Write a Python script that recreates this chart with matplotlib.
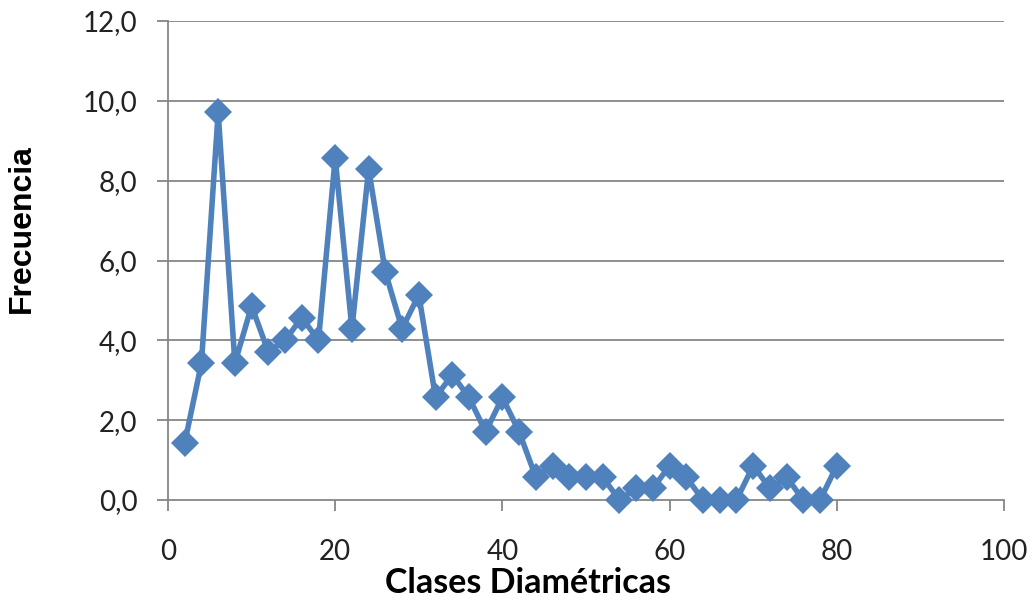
import numpy as np
import matplotlib.pyplot as plt

clases = list(range(2, 82, 2))
frecuencia = [1.43, 3.43, 9.71, 3.43, 4.86, 3.71, 4.00, 4.57, 4.00, 8.57,
              4.29, 8.29, 5.71, 4.29, 5.14, 2.57, 3.14, 2.57, 1.71, 2.57,
              1.71, 0.57, 0.86, 0.57, 0.57, 0.57, 0.00, 0.29, 0.29, 0.86,
              0.57, 0.00, 0.00, 0.00, 0.86, 0.29, 0.57, 0.00, 0.00, 0.86]
x_ticks = [0, 20, 40, 60, 80, 100]
y_ticks = [0, 2, 4, 6, 8, 10, 12]

plt.rcParams['font.family'] = ['Lato', 'DejaVu Sans']

fig = plt.figure(figsize=(10.32, 6.01), dpi=100)
ax = fig.add_axes([168 / 1032, 1 - 500 / 601, (1004 - 168) / 1032, (500 - 21) / 601])

grid_col = '#868686'
for y in y_ticks[1:]:
    ax.axhline(y, color=grid_col, lw=1.3, zorder=1)

ax.plot(clases, frecuencia, color='#4F81BD', lw=4, marker='D',
        markersize=14, markeredgewidth=0, zorder=3, clip_on=False)

ax.set_xlim(0, 100)
ax.set_ylim(0, 12)
ax.set_xticks(x_ticks)
ax.set_yticks(y_ticks)
ax.set_yticklabels([f"{v:.1f}".replace('.', ',') for v in y_ticks])

for side in ['top', 'right']:
    ax.spines[side].set_visible(False)
for side in ['left', 'bottom']:
    ax.spines[side].set_color(grid_col)
    ax.spines[side].set_linewidth(1.3)

ax.tick_params(axis='both', direction='out', length=8, width=1.3,
               color=grid_col, labelsize=20, labelcolor='#222222')
ax.tick_params(axis='x', pad=20)
ax.tick_params(axis='y', pad=14)

ax.set_xlabel('Clases Diamétricas', fontsize=24.5, fontweight='bold', va='center')
ax.xaxis.set_label_coords((528 - 168) / 836, (500 - 583) / 479)
ax.set_ylabel('Frecuencia', fontsize=23, fontweight='bold', va='center',
              family=['Liberation Sans', 'DejaVu Sans'])
ax.yaxis.set_label_coords((22 - 168) / 836, (500 - 229) / 479)

fig.savefig('out.png', dpi=100)
